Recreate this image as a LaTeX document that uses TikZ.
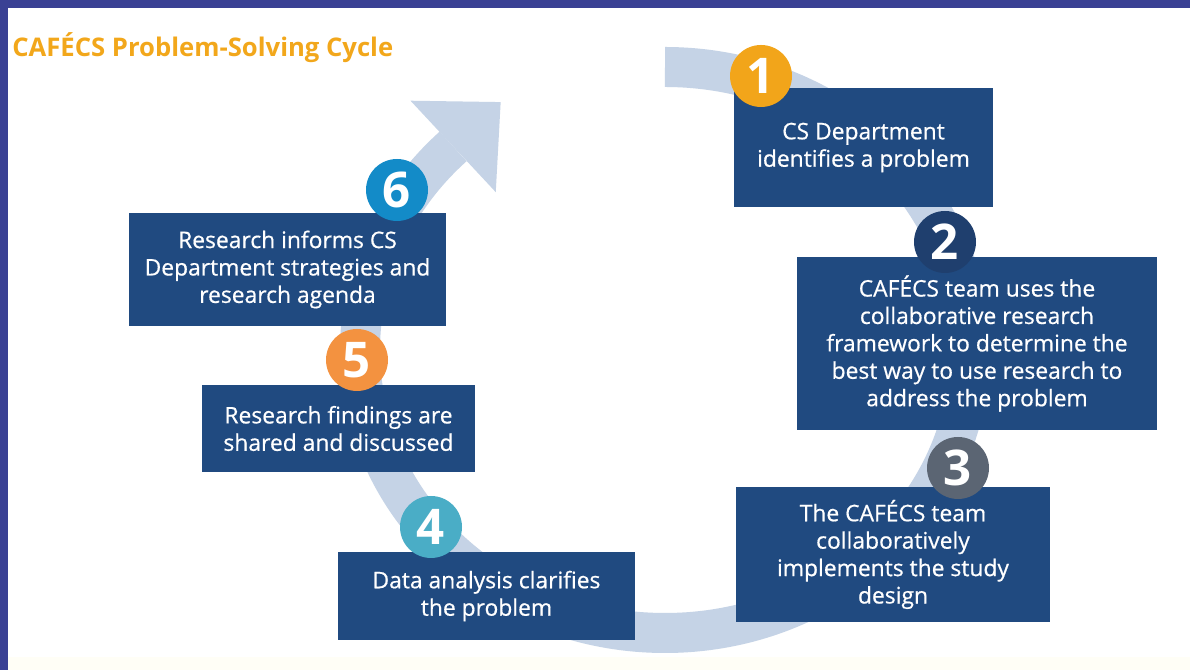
\documentclass[tikz,border=0pt]{standalone}
\usepackage{fontspec}
\setmainfont{Open Sans}
\newfontfamily\boxfont{Open Sans}[FakeBold=0.6]
\usetikzlibrary{calc}

\definecolor{framebar}{HTML}{3A4194}
\definecolor{loopblue}{HTML}{C5D3E6}
\definecolor{stepblue}{HTML}{204A80}
\definecolor{titleorange}{HTML}{F2A71B}
\definecolor{creamstrip}{HTML}{FFFEF6}
\definecolor{badgegold}{HTML}{F2A51A}
\definecolor{badgenavy}{HTML}{1F3F6E}
\definecolor{badgeslate}{HTML}{5B6573}
\definecolor{badgeteal}{HTML}{4AADC6}
\definecolor{badgeorange}{HTML}{F39240}
\definecolor{badgeblue}{HTML}{138BC8}

\begin{document}
\begin{tikzpicture}[
		stepbox/.style={
			fill=stepblue,
			text=white,
			align=center,
			inner sep=0pt,
			font=\boxfont\fontsize{13}{15.6}\selectfont
		},
		badge/.style={
			circle,
			minimum size=1.24cm,
			inner sep=0pt,
			text=white,
			font=\fontsize{28}{28}\bfseries\selectfont
		},
		loopband/.style={loopblue, line width=0.8cm}
	]
		% page, frame and title
		\useasboundingbox (0,0) rectangle (23.8,13.4);
		\fill[white] (0,0) rectangle (23.8,13.4);
		\fill[creamstrip] (0.16,0) rectangle (23.8,0.26);
		\fill[framebar] (0,13.24) rectangle (23.8,13.4);
		\fill[framebar] (0,0) rectangle (0.16,13.4);

		\node[anchor=base west, inner sep=0pt, text=titleorange,
			font=\fontsize{14.6}{14.6}\bfseries\selectfont] (title) at (0.24,12.26)
			{CAFÉCS Problem-Solving Cycle};

		% big cycle arrow behind the boxes
		\coordinate (hub) at (13.3,6.4);
		\draw[loopband] (13.3,12.06)
			arc[start angle=90, end angle=-226, x radius=6.1, y radius=5.66]
			coordinate (tail);
		\fill[loopblue] ($(tail)+(133:1.25)$) -- ($(tail)+(43:1.3)$)
			-- ($(tail)+(-47:1.25)$) -- cycle;

		% steps
		\node[stepbox, minimum width=5.18cm, minimum height=2.38cm] (identify) at (17.27,10.45) {
			CS Department\\identifies a problem
		};
		\node[stepbox, minimum width=7.2cm, minimum height=3.46cm] (framework) at (19.54,6.53) {
			CAFÉCS team uses the\\collaborative research\\framework to determine the\\best way to use research to\\address the problem
		};
		\node[stepbox, minimum width=6.28cm, minimum height=2.7cm] (implement) at (17.86,2.31) {
			The CAFÉCS team\\collaboratively\\implements the study\\design
		};
		\node[stepbox, minimum width=5.94cm, minimum height=1.76cm] (analysis) at (9.73,1.48) {
			Data analysis clarifies\\the problem
		};
		\node[stepbox, minimum width=5.46cm, minimum height=1.74cm] (findings) at (6.77,4.83) {
			Research findings are\\shared and discussed
		};
		\node[stepbox, minimum width=6.34cm, minimum height=2.26cm] (informs) at (5.75,8.01) {
			Research informs CS\\Department strategies and\\research agenda
		};

		% numbered badges
		\node[badge, fill=badgegold] (n1) at (15.22,11.88) {1};
		\node[badge, fill=badgenavy] (n2) at (18.9,8.56) {2};
		\node[badge, fill=badgeslate] (n3) at (19.16,4.04) {3};
		\node[badge, fill=badgeteal] (n4) at (8.62,2.86) {4};
		\node[badge, fill=badgeorange] (n5) at (7.14,6.2) {5};
		\node[badge, fill=badgeblue] (n6) at (7.94,9.6) {6};
	\end{tikzpicture}
\end{document}
